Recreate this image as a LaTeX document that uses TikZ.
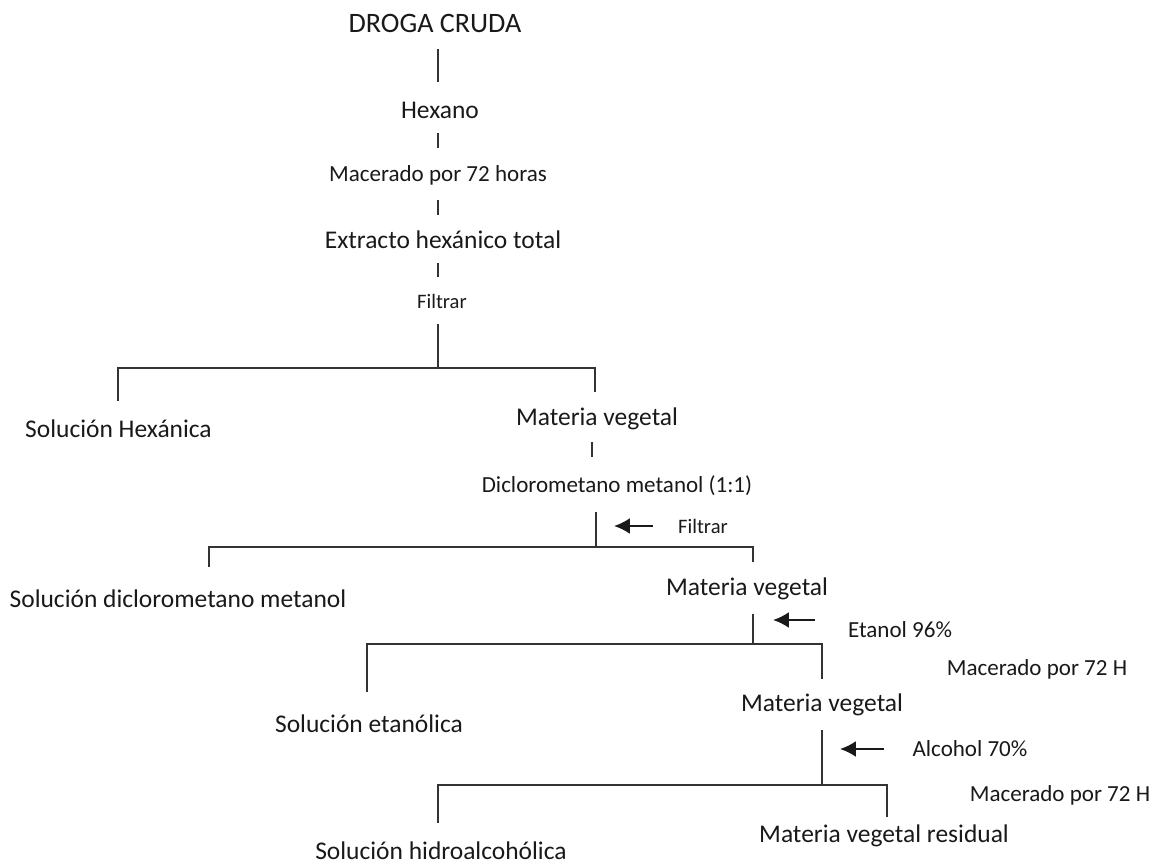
\documentclass[tikz,border=0pt]{standalone}
\usepackage{fontspec}
\setmainfont{Carlito}
\usetikzlibrary{arrows.meta}
\tikzset{
	paso/.style={inner sep=0pt, text=black!90, font=\fontsize{14.5}{17}\selectfont},
	nota/.style={inner sep=0pt, text=black!90, font=\fontsize{13.1}{16}\selectfont},
	chico/.style={inner sep=0pt, text=black!90, font=\fontsize{11.7}{14}\selectfont},
	linea/.style={line width=1pt, color=black!80},
	flecha/.style={line width=1.2pt, color=black!90, -{Latex[length=9pt,width=9pt]}}
}
\begin{document}
\begin{tikzpicture}
		%%%%% START %%%%%
		\useasboundingbox (0, 0) rectangle (23.1, 17.32);
		
		% etapa hexano
		\node[paso, font=\fontsize{16}{19}\selectfont] (droga) at (8.70, 16.86) {DROGA CRUDA};
		\node[paso] (hexano) at (8.80, 15.12) {Hexano};
		\node[nota] (macA) at (8.76, 13.82) {Macerado por 72 horas};
		\node[paso] (extracto) at (8.86, 12.52) {Extracto hexánico total};
		\node[chico] (filtA) at (8.84, 11.30) {Filtrar};
		
		\coordinate (a1) at (8.76, 16.34);
		\coordinate (a2) at (8.76, 15.68);
		\coordinate (b1) at (8.76, 14.66);
		\coordinate (b2) at (8.76, 14.36);
		\coordinate (c1) at (8.76, 13.32);
		\coordinate (c2) at (8.76, 13.02);
		\coordinate (d1) at (8.76, 12.06);
		\coordinate (d2) at (8.76, 11.78);
		\draw[linea] (a1) -- (a2);
		\draw[linea] (b1) -- (b2);
		\draw[linea] (c1) -- (c2);
		\draw[linea] (d1) -- (d2);
		
		% primer filtrado
		\node[paso] (solhex) at (2.37, 8.74) {Solución Hexánica};
		\node[paso] (vegA) at (11.94, 8.94) {Materia vegetal};
		\node[nota] (dcm) at (12.34, 7.60) {Diclorometano metanol (1:1)};
		
		\coordinate (t1) at (8.76, 10.84);
		\coordinate (r1) at (8.76, 9.96);
		\coordinate (i1) at (2.36, 9.30);
		\coordinate (e1) at (11.90, 9.48);
		\draw[linea] (t1) -- (r1);
		\draw[linea] (i1) |- (r1) -| (e1);
		
		\coordinate (g1) at (11.84, 8.48);
		\coordinate (g2) at (11.84, 8.18);
		\draw[linea] (g1) -- (g2);
		
		% segundo filtrado
		\node[chico] (filtB) at (14.06, 6.80) {Filtrar};
		\node[paso] (soldcm) at (3.56, 5.34) {Solución diclorometano metanol};
		\node[paso] (vegB) at (14.94, 5.54) {Materia vegetal};
		
		\coordinate (t2) at (11.92, 7.08);
		\coordinate (r2) at (11.92, 6.38);
		\coordinate (i2) at (4.18, 5.98);
		\coordinate (e2) at (15.06, 6.08);
		\draw[linea] (t2) -- (r2);
		\draw[linea] (i2) |- (r2) -| (e2);
		\coordinate (p2) at (12.28, 6.80);
		\draw[flecha] ([xshift=-0.5cm]filtB.west) -- (p2);
		
		% etanol
		\node[nota] (etanol) at (18.00, 4.72) {Etanol 96\%};
		\node[nota] (macB) at (20.74, 3.94) {Macerado por 72 H};
		\node[paso] (soleta) at (7.38, 2.84) {Solución etanólica};
		\node[paso] (vegC) at (16.44, 3.22) {Materia vegetal};
		
		\coordinate (t3) at (15.06, 5.04);
		\coordinate (r3) at (15.06, 4.44);
		\coordinate (i3) at (7.34, 3.48);
		\coordinate (e3) at (16.44, 3.74);
		\draw[linea] (t3) -- (r3);
		\draw[linea] (i3) |- (r3) -| (e3);
		\coordinate (q3) at (16.30, 4.92);
		\coordinate (p3) at (15.46, 4.92);
		\draw[flecha] (q3) -- (p3);
		
		% alcohol
		\node[nota] (alcohol) at (19.40, 2.34) {Alcohol 70\%};
		\node[nota] (macC) at (21.20, 1.42) {Macerado por 72 H};
		\node[paso] (solhid) at (8.82, 0.30) {Solución hidroalcohólica};
		\node[paso] (vegres) at (17.68, 0.60) {Materia vegetal residual};
		
		\coordinate (t4) at (16.44, 2.72);
		\coordinate (r4) at (16.44, 1.62);
		\coordinate (i4) at (8.76, 0.86);
		\coordinate (e4) at (17.74, 0.98);
		\draw[linea] (t4) -- (r4);
		\draw[linea] (i4) |- (r4) -| (e4);
		\coordinate (p4) at (16.80, 2.34);
		\draw[flecha] ([xshift=-0.56cm]alcohol.west) -- (p4);
		
		%%%%% END %%%%%
\end{tikzpicture}
\end{document}
